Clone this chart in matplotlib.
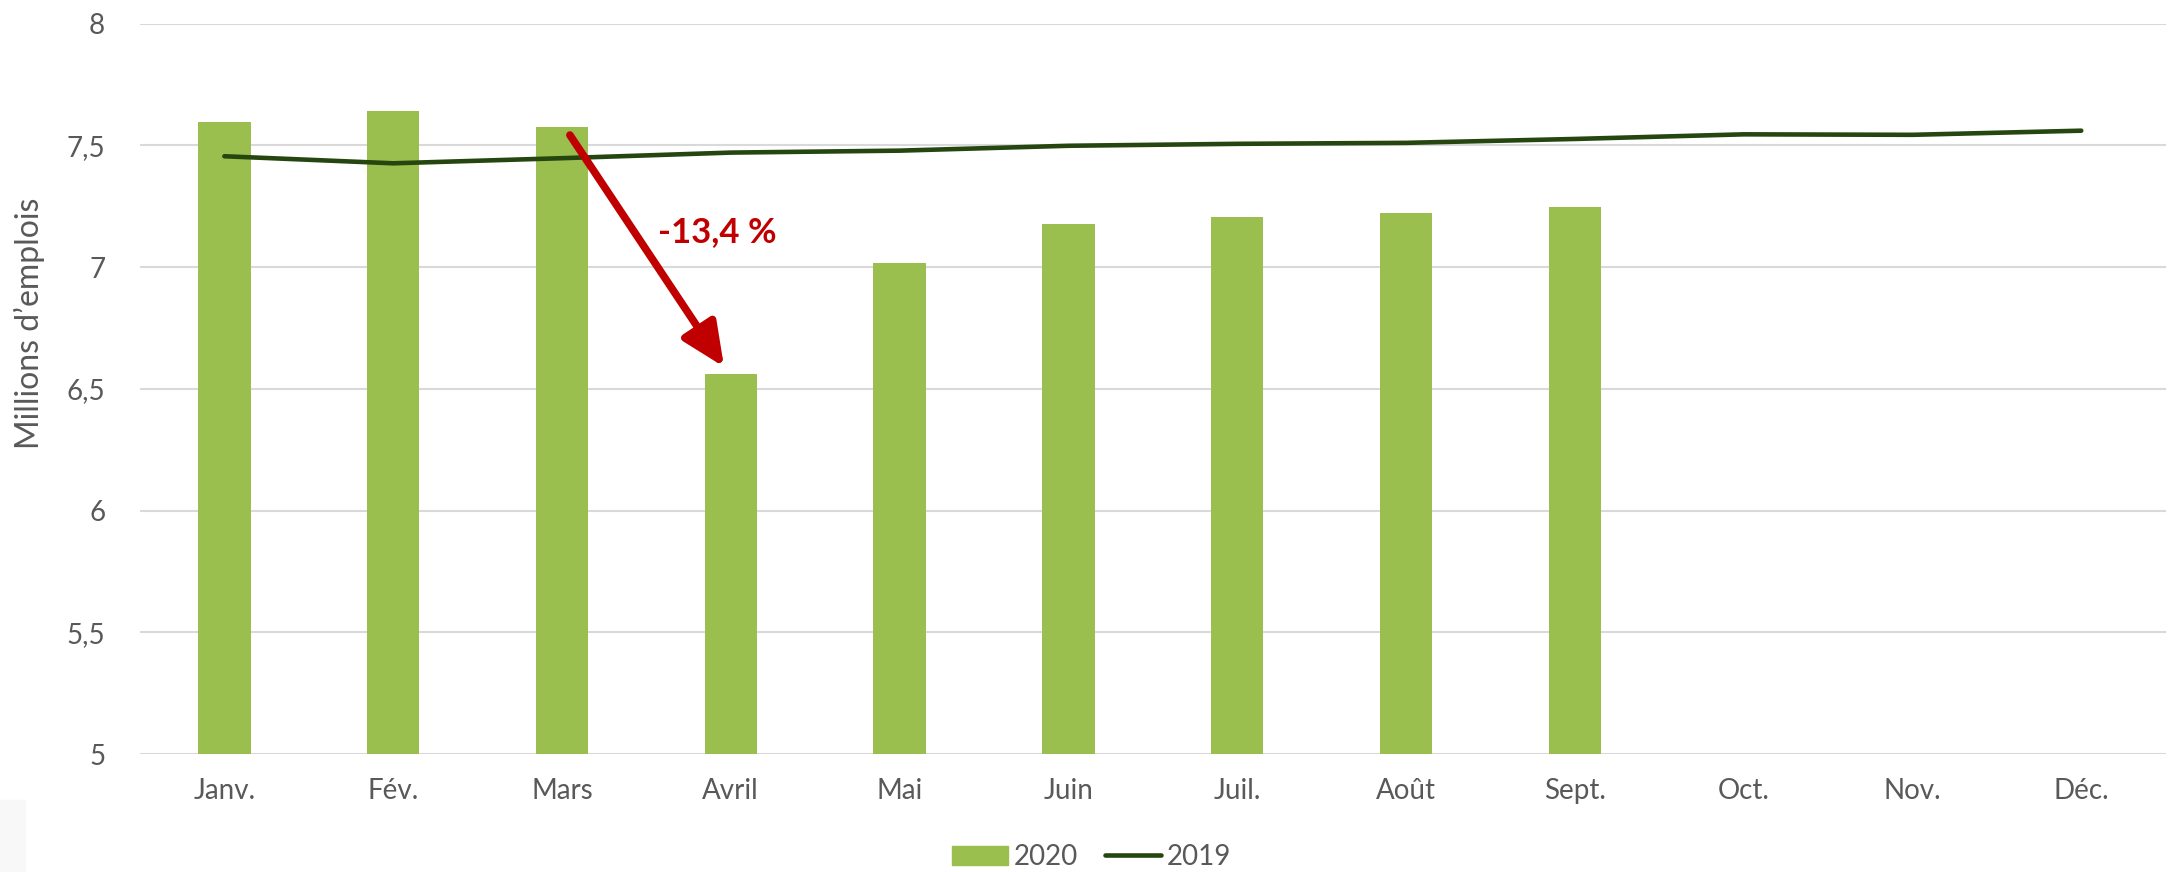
import matplotlib
matplotlib.use('Agg')
import matplotlib.pyplot as plt
import matplotlib.patches as mpatches
import matplotlib.lines as mlines
import numpy as np

months = ['Janv.', 'Fév.', 'Mars', 'Avril', 'Mai', 'Juin', 'Juil.', 'Août', 'Sept.', 'Oct.', 'Nov.', 'Déc.']
emplois_2020 = [7.595, 7.64, 7.575, 6.56, 7.015, 7.175, 7.205, 7.22, 7.245]
emplois_2019 = [7.455, 7.426, 7.447, 7.47, 7.478, 7.498, 7.506, 7.51, 7.526, 7.545, 7.543, 7.56]
yticks = [5, 5.5, 6, 6.5, 7, 7.5, 8]
ytick_labels = ['5', '5,5', '6', '6,5', '7', '7,5', '8']
drop_label = '-13,4 %'

bar_colour = '#9BBF4E'
line_colour = '#264610'
grey = '#595959'

plt.rcParams['font.family'] = ['Lato', 'DejaVu Sans']

fig = plt.figure(figsize=(21.7, 8.72), dpi=100)
ax = fig.add_axes([0.0645, 0.1353, 0.9335, 0.8377])

x = np.arange(len(months))
ax.bar(x[:len(emplois_2020)], emplois_2020, width=0.31, color=bar_colour, zorder=2)
ax.plot(x, emplois_2019, color=line_colour, linewidth=3.3, solid_capstyle='round',
        solid_joinstyle='round', zorder=3)

ax.set_xlim(-0.5, len(months) - 0.5)
ax.set_ylim(5, 8)
ax.set_yticks(yticks)
ax.set_yticklabels(ytick_labels)
ax.set_xticks(x)
ax.set_xticklabels(months)
ax.tick_params(axis='both', length=0, labelsize=20, colors=grey)
ax.tick_params(axis='x', pad=17)
ax.tick_params(axis='y', pad=25)
ax.grid(axis='y', color='#D9D9D9', linewidth=1.5, zorder=0)
for s in ax.spines.values():
    s.set_visible(False)
ax.set_ylabel('Millions d\u2019emplois', fontsize=23, color=grey)
ax.yaxis.set_label_coords(-0.047, 0.59)

# arrow from March to April
ax.annotate('', xy=(3 - 0.04, emplois_2020[3] + 0.03), xytext=(2 + 0.047, emplois_2020[2] - 0.033),
            arrowprops=dict(arrowstyle='-|>,head_length=0.66,head_width=0.3', lw=5.5,
                            color='#C00000', mutation_scale=40, shrinkA=0, shrinkB=0), zorder=4)
ax.text(2.92, 7.144, drop_label, color='#C00000', fontsize=25, fontweight='bold',
        ha='center', va='center', zorder=5)

h1 = mpatches.Patch(color=bar_colour, label='2020')
h2 = mlines.Line2D([], [], color=line_colour, linewidth=3.3, solid_capstyle='round', label='2019')
fig.legend(handles=[h1, h2], loc='center', bbox_to_anchor=(0.503, 0.017), ncol=2, frameon=False,
           fontsize=20, labelcolor=grey, handlelength=2.0, handletextpad=0.2, columnspacing=1.0)

fig.patches.append(mpatches.Rectangle((0, 0), 0.0115, 0.083, transform=fig.transFigure,
                                      color='#F8F8F8', zorder=0))

plt.savefig('out.png', dpi=100)
